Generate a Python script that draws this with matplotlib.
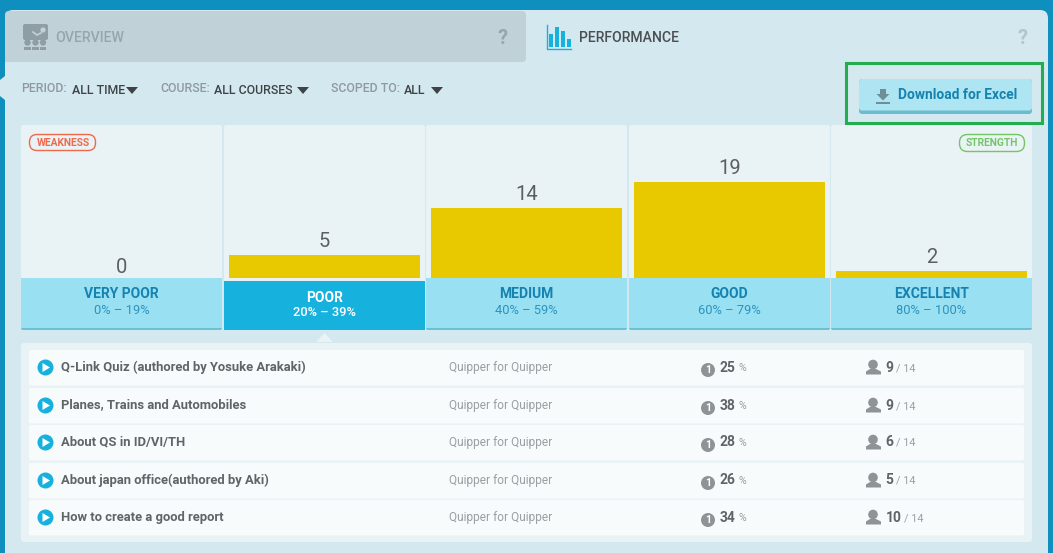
import matplotlib
matplotlib.use('Agg')
import matplotlib.pyplot as plt
from matplotlib.patches import FancyBboxPatch, Rectangle, Circle, Polygon

plt.rcParams['font.family'] = ['Roboto', 'DejaVu Sans']

# chart data
levels = ['VERY POOR', 'POOR', 'MEDIUM', 'GOOD', 'EXCELLENT']
ranges = ['0% – 19%', '20% – 39%', '40% – 59%', '60% – 79%', '80% – 100%']
counts = [0, 5, 14, 19, 2]

# table data
quiz_names = ['Q-Link Quiz (authored by Yosuke Arakaki)', 'Planes, Trains and Automobiles',
              'About QS in ID/VI/TH', 'About japan office(authored by Aki)', 'How to create a good report']
quiz_course = 'Quipper for Quipper'
quiz_scores = [25, 38, 28, 26, 34]
quiz_done = [9, 9, 6, 5, 10]
quiz_total = 14

W, H = 1053, 553
fig = plt.figure(figsize=(W / 100, H / 100), dpi=100)
fig.patch.set_facecolor('#0f8fbd')


def full_axes(z):
    a = fig.add_axes([0, 0, 1, 1], zorder=z)
    a.set_xlim(0, W)
    a.set_ylim(H, 0)
    a.axis('off')
    a.patch.set_alpha(0)
    return a


def rbox(a, x, y, w, h, color, r=3, z=1, **kw):
    p = FancyBboxPatch((x + r, y + r), w - 2 * r, h - 2 * r, boxstyle='round,pad=%g,rounding_size=%g' % (r, r),
                       fc=color, ec=kw.pop('ec', 'none'), lw=kw.pop('lw', 0), zorder=z, **kw)
    a.add_patch(p)
    return p


back = full_axes(1)
front = full_axes(3)

# main panel
rbox(back, 5, 10, 1043, 560, '#d4e8ef', r=8)
rbox(back, 5, 11, 521, 51, '#c0d2d8', r=4, z=1.5)
back.add_patch(Rectangle((5, 40), 6, 22, fc='#c0d2d8', lw=0, zorder=1.4))
back.add_patch(Polygon([(0, 80), (5, 76), (5, 100), (0, 96)], fc='#d4e8ef', lw=0, zorder=1.4))

# overview tab
rbox(back, 23, 24, 25, 16, '#8f9ea4', r=2, z=2)
back.add_patch(Circle((43, 30), 2.6, fc='#c0d2d8', lw=0, zorder=2.1))
back.plot([33, 37, 41], [32, 35, 33], color='#c0d2d8', lw=1.2, zorder=2.1)
for cx in (27.5, 35.5, 43):
    back.add_patch(Circle((cx, 42.5), 3.2, fc='#8f9ea4', lw=0, zorder=2))
    back.add_patch(Rectangle((cx - 3.5, 47), 6.5, 2.5, fc='#8f9ea4', lw=0, zorder=2))
back.text(55.5, 38, 'OVERVIEW', fontsize=10.2, color='#97a6ab', fontweight='medium', va='center')
back.text(502, 38, '?', fontsize=14.5, color='#97a6ab', fontweight='bold', ha='center', va='center')

# performance tab
back.plot([546.5, 546.5, 571], [25, 48.5, 48.5], color='#17b1de', lw=1)
for bx, bh in zip((549, 555, 561, 567), (13, 20, 16, 8)):
    back.add_patch(Rectangle((bx, 47 - bh), 4, bh, fc='#17b1de', lw=0, zorder=2))
back.text(579.5, 38, 'PERFORMANCE', fontsize=10.05, color='#4a4f52', fontweight='medium', va='center')
back.text(1022, 38, '?', fontsize=14.5, color='#b4c4ca', fontweight='bold', ha='center', va='center')

# filters
filters = [(21.5, 'PERIOD:', 72, 'ALL TIME', 132), (160.5, 'COURSE:', 214.5, 'ALL COURSES', 303),
           (331, 'SCOPED TO:', 404, 'ALL', 437)]
for lx, lab, vx, val, tri in filters:
    back.text(lx, 88.5, lab, fontsize=8.9, color='#8e9a9f', fontweight='medium', va='center')
    back.text(vx, 90.5, val, fontsize=8.9, color='#3f4346', fontweight='medium', va='center')
    back.add_patch(Polygon([(tri - 6, 87), (tri + 6, 87), (tri, 94)], fc='#3f4346', lw=0, zorder=2))

# download button
back.add_patch(Rectangle((845.5, 62.5), 196, 60, fc='none', ec='#22ad4f', lw=2.2, zorder=2))
rbox(back, 859, 79, 173, 35, '#6bbccd', r=3, z=2)
rbox(back, 859, 79, 173, 31.5, '#aee5f2', r=3, z=2.1)
back.add_patch(Polygon([(880, 89), (886, 89), (886, 94), (889.5, 94), (883, 100.5), (876.5, 94), (880, 94)],
                       fc='#6f8f98', lw=0, zorder=3))
back.add_patch(Rectangle((875.5, 102), 14.5, 2, fc='#6f8f98', lw=0, zorder=3))
back.text(897.5, 95, 'Download for Excel', fontsize=9.95, color='#1582b0', fontweight='bold', va='center', zorder=3)

# chart column backgrounds
col_x = [21, 224, 426, 629, 831]
col_w = [201, 201, 201, 201, 201]
for x0, w0 in zip(col_x, col_w):
    rbox(back, x0, 125, w0, 160, '#e9f2f5', r=2, z=2)

# bars, on their own data scale (5.2 px per count, baseline read at 0.6)
ax = fig.add_axes([20.5 / W, 1 - 278 / H, 1012.5 / W, 153 / H], zorder=2)
ax.patch.set_alpha(0)
ax.set_xlim(-0.5, 4.5)
ax.set_ylim(0.6, 0.6 + 153 / 5.2)
ax.axis('off')
pos = list(range(len(levels)))
ax.bar(pos, counts, width=0.943, color='#e8c900', lw=0)
for p0, c in zip(pos, counts):
    ax.annotate(str(c), (p0, c), xytext=(0, 2.8), textcoords='offset points', ha='center', va='bottom',
                fontsize=14.5, color='#5b5f61', annotation_clip=False)

# labels under the bars
for i, x0 in enumerate(col_x):
    cx = x0 + 100.5
    if levels[i] == 'POOR':
        front.add_patch(Rectangle((x0, 281), 201, 49, fc='#17b1de', lw=0, zorder=2))
        front.text(cx, 297.5, levels[i], fontsize=10, color='white', fontweight='bold', ha='center', va='center')
        front.text(cx, 313, ranges[i], fontsize=9.3, color='white', fontweight='medium', ha='center', va='center')
    else:
        rbox(front, x0, 278, 201, 52, '#6cc0d3', r=2, z=1)
        front.add_patch(Rectangle((x0, 278), 201, 49.5, fc='#9ae0f3', lw=0, zorder=2))
        front.text(cx, 294.5, levels[i], fontsize=10, color='#1582b0', fontweight='bold', ha='center', va='center')
        front.text(cx, 310, ranges[i], fontsize=9.3, color='#2a93bf', ha='center', va='center')

# badges
rbox(front, 29.5, 134.5, 66, 16, 'none', r=7.5, ec='#ef6a4c', lw=1)
front.text(63, 143, 'WEAKNESS', fontsize=7.4, color='#ef6a4c', fontweight='bold', ha='center', va='center')
rbox(front, 959.5, 134.5, 65, 17, 'none', r=8, ec='#75c566', lw=1)
front.text(991.5, 143, 'STRENGTH', fontsize=7.4, color='#75c566', fontweight='bold', ha='center', va='center')

# list panel
front.add_patch(Polygon([(316, 342), (333, 342), (324.5, 333)], fc='#e9f2f5', lw=0, zorder=1))
rbox(front, 21, 343, 1011, 199, '#e9f2f5', r=3, z=1)
row_tops = [350, 388, 425, 463, 500]
for i, y0 in enumerate(row_tops):
    rbox(front, 29, y0, 995, 35.5, '#f8fbfc', r=2, z=2)
    cy = y0 + 17.5
    front.add_patch(Circle((45.5, cy), 8, fc='#17b1de', lw=0, zorder=3))
    front.add_patch(Polygon([(42.5, cy - 4.5), (42.5, cy + 4.5), (50, cy)], fc='white', lw=0, zorder=4))
    front.text(61, cy - 0.5, quiz_names[i], fontsize=9.36, color='#5f6467', fontweight='bold', va='center', zorder=4)
    front.text(449, cy, quiz_course, fontsize=8.6, color='#9a9fa2', va='center', zorder=4)
    # score
    front.add_patch(Circle((708, cy + 2.5), 7, fc='#8f9395', lw=0, zorder=3))
    front.text(708, cy + 2.8, '1', fontsize=7.5, color='white', fontweight='bold', ha='center', va='center', zorder=4)
    front.text(720, cy, str(quiz_scores[i]), fontsize=10, color='#5f6467', fontweight='bold', va='center', zorder=4)
    front.text(738.5, cy + 0.5, '%', fontsize=7.6, color='#9a9fa2', va='center', zorder=4)
    # people
    front.add_patch(Circle((873, cy - 3), 4.8, fc='#8f9395', lw=0, zorder=3))
    front.add_patch(Polygon([(866, cy + 7), (866, cy + 4), (870, cy + 1.5), (876, cy + 1.5), (881, cy + 4), (881, cy + 7)],
                            fc='#8f9395', lw=0, zorder=3))
    front.text(885.5, cy, str(quiz_done[i]), fontsize=10, color='#5f6467', fontweight='bold', va='center', zorder=4)
    off = 896 if quiz_done[i] < 10 else 904
    front.text(off, cy + 0.5, '/ %d' % quiz_total, fontsize=7.8, color='#9a9fa2', va='center', zorder=4)

fig.savefig('out.png', dpi=100)
